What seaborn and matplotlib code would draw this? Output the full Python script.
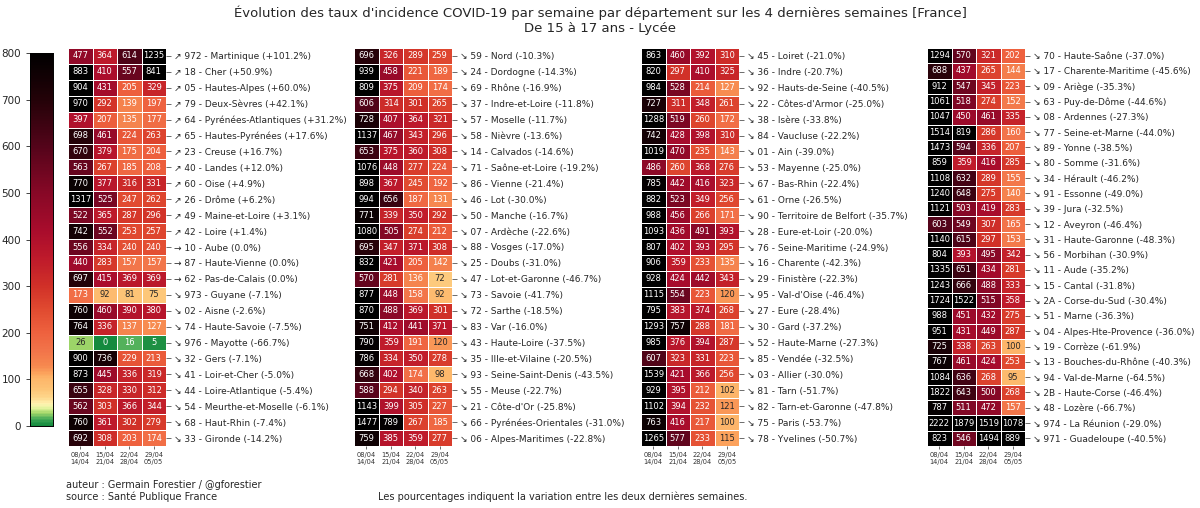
import numpy as np
import pandas as pd
import matplotlib
matplotlib.use("Agg")
import matplotlib.pyplot as plt
import seaborn as sns
from matplotlib.colors import LinearSegmentedColormap

weeks = ["08/04\n14/04", "15/04\n21/04", "22/04\n28/04", "29/04\n05/05"]

codes = [
    "972", "18", "05", "79", "64", "65", "23", "40", "60", "26", "49", "42", "10",
    "87", "62", "973", "02", "74", "976", "32", "41", "44", "54", "68", "33",
    "59", "24", "69", "37", "57", "58", "14", "71", "86", "46", "50", "07", "88",
    "25", "47", "73", "72", "83", "43", "35", "93", "55", "21", "66", "06",
    "45", "36", "92", "22", "38", "84", "01", "53", "67", "61", "90", "28", "76",
    "16", "29", "95", "27", "30", "52", "85", "03", "81", "82", "75", "78",
    "70", "17", "09", "63", "08", "77", "89", "80", "34", "91", "39", "12", "31",
    "56", "11", "15", "2A", "51", "04", "19", "13", "94", "2B", "48", "974", "971",
]
names = [
    "Martinique", "Cher", "Hautes-Alpes", "Deux-Sèvres", "Pyrénées-Atlantiques",
    "Hautes-Pyrénées", "Creuse", "Landes", "Oise", "Drôme", "Maine-et-Loire", "Loire",
    "Aube", "Haute-Vienne", "Pas-de-Calais", "Guyane", "Aisne", "Haute-Savoie",
    "Mayotte", "Gers", "Loir-et-Cher", "Loire-Atlantique", "Meurthe-et-Moselle",
    "Haut-Rhin", "Gironde",
    "Nord", "Dordogne", "Rhône", "Indre-et-Loire", "Moselle", "Nièvre", "Calvados",
    "Saône-et-Loire", "Vienne", "Lot", "Manche", "Ardèche", "Vosges", "Doubs",
    "Lot-et-Garonne", "Savoie", "Sarthe", "Var", "Haute-Loire", "Ille-et-Vilaine",
    "Seine-Saint-Denis", "Meuse", "Côte-d'Or", "Pyrénées-Orientales", "Alpes-Maritimes",
    "Loiret", "Indre", "Hauts-de-Seine", "Côtes-d'Armor", "Isère", "Vaucluse", "Ain",
    "Mayenne", "Bas-Rhin", "Orne", "Territoire de Belfort", "Eure-et-Loir",
    "Seine-Maritime", "Charente", "Finistère", "Val-d'Oise", "Eure", "Gard",
    "Haute-Marne", "Vendée", "Allier", "Tarn", "Tarn-et-Garonne", "Paris", "Yvelines",
    "Haute-Saône", "Charente-Maritime", "Ariège", "Puy-de-Dôme", "Ardennes",
    "Seine-et-Marne", "Yonne", "Somme", "Hérault", "Essonne", "Jura", "Aveyron",
    "Haute-Garonne", "Morbihan", "Aude", "Cantal", "Corse-du-Sud", "Marne",
    "Alpes-Hte-Provence", "Corrèze", "Bouches-du-Rhône", "Val-de-Marne", "Haute-Corse",
    "Lozère", "La Réunion", "Guadeloupe",
]
wk1 = [
    477, 883, 904, 970, 397, 698, 670, 563, 770, 1317, 522, 742, 556,
    440, 697, 173, 760, 764, 26, 900, 873, 655, 562, 760, 692,
    696, 939, 809, 606, 728, 1137, 653, 1076, 898, 994, 771, 1080, 695,
    832, 570, 877, 870, 751, 790, 786, 668, 588, 1143, 1477, 759,
    863, 820, 984, 727, 1288, 742, 1019, 486, 785, 882, 988, 1093, 807,
    906, 928, 1115, 795, 1293, 985, 607, 1539, 929, 1102, 763, 1265,
    1294, 688, 912, 1061, 1047, 1514, 1473, 859, 1108, 1240, 1121, 603, 1140,
    804, 1335, 1243, 1724, 988, 951, 725, 767, 1084, 1822, 787, 2222, 823,
]
wk2 = [
    364, 410, 431, 292, 207, 461, 379, 267, 377, 525, 365, 552, 334,
    283, 415, 92, 460, 336, 0, 736, 445, 328, 303, 361, 308,
    326, 458, 375, 314, 407, 467, 375, 448, 367, 656, 339, 505, 347,
    421, 281, 448, 488, 412, 359, 334, 402, 294, 399, 789, 385,
    460, 297, 528, 311, 519, 428, 470, 260, 442, 523, 456, 436, 402,
    359, 424, 554, 383, 757, 376, 323, 421, 395, 394, 416, 577,
    570, 437, 547, 518, 450, 819, 594, 359, 632, 648, 503, 549, 615,
    393, 651, 666, 1522, 451, 431, 338, 461, 636, 643, 511, 1879, 546,
]
wk3 = [
    614, 557, 205, 139, 135, 224, 175, 185, 316, 247, 287, 253, 240,
    157, 369, 81, 390, 137, 16, 229, 336, 330, 366, 302, 203,
    289, 221, 209, 301, 364, 343, 360, 277, 245, 187, 350, 274, 371,
    205, 136, 158, 369, 441, 191, 350, 174, 340, 305, 267, 359,
    392, 410, 214, 348, 260, 398, 235, 368, 416, 349, 266, 491, 393,
    233, 442, 223, 374, 288, 394, 331, 366, 212, 232, 217, 233,
    321, 265, 345, 274, 461, 286, 336, 416, 289, 275, 419, 307, 297,
    495, 434, 488, 515, 432, 449, 263, 424, 268, 500, 472, 1519, 1494,
]
wk4 = [
    1235, 841, 329, 197, 177, 263, 204, 208, 331, 262, 296, 257, 240,
    157, 369, 75, 380, 127, 5, 213, 319, 312, 344, 279, 174,
    259, 189, 174, 265, 321, 296, 308, 224, 192, 131, 292, 212, 308,
    142, 72, 92, 301, 371, 120, 278, 98, 263, 227, 185, 277,
    310, 325, 127, 261, 172, 310, 143, 276, 323, 256, 171, 393, 295,
    135, 343, 120, 268, 181, 287, 223, 256, 102, 121, 100, 115,
    202, 144, 223, 152, 335, 160, 207, 285, 155, 140, 283, 165, 153,
    342, 281, 333, 358, 275, 287, 100, 253, 95, 268, 157, 1078, 889,
]
pct = [
    101.2, 50.9, 60.0, 42.1, 31.2, 17.6, 16.7, 12.0, 4.9, 6.2, 3.1, 1.4, 0.0,
    0.0, 0.0, -7.1, -2.6, -7.5, -66.7, -7.1, -5.0, -5.4, -6.1, -7.4, -14.2,
    -10.3, -14.3, -16.9, -11.8, -11.7, -13.6, -14.6, -19.2, -21.4, -30.0, -16.7, -22.6, -17.0,
    -31.0, -46.7, -41.7, -18.5, -16.0, -37.5, -20.5, -43.5, -22.7, -25.8, -31.0, -22.8,
    -21.0, -20.7, -40.5, -25.0, -33.8, -22.2, -39.0, -25.0, -22.4, -26.5, -35.7, -20.0, -24.9,
    -42.3, -22.3, -46.4, -28.4, -37.2, -27.3, -32.5, -30.0, -51.7, -47.8, -53.7, -50.7,
    -37.0, -45.6, -35.3, -44.6, -27.3, -44.0, -38.5, -31.6, -46.2, -49.0, -32.5, -46.4, -48.3,
    -30.9, -35.2, -31.8, -30.4, -36.3, -36.0, -61.9, -40.3, -64.5, -46.4, -66.7, -29.0, -40.5,
]
panel_sizes = [25, 25, 25, 26]

title = ("Évolution des taux d'incidence COVID-19 par semaine par département sur les 4 "
         "dernières semaines [France]\nDe 15 à 17 ans - Lycée")

cmap = LinearSegmentedColormap.from_list("incid", [
    (0.000, "#148a3e"), (0.010, "#2a9a4c"), (0.020, "#55b25c"), (0.033, "#a6d96a"),
    (0.048, "#e8f5a2"), (0.058, "#fff2b0"), (0.075, "#fed68a"), (0.100, "#fdc274"),
    (0.125, "#fdb66a"), (0.140, "#fca45d"), (0.160, "#f6884f"), (0.200, "#f2744a"),
    (0.250, "#ee613e"), (0.3125, "#e04a30"), (0.375, "#d03028"), (0.450, "#be1a2b"),
    (0.525, "#a80c2c"), (0.625, "#870826"), (0.750, "#54041a"), (0.875, "#240208"),
    (1.000, "#000000"),
])

def fmt_label(code, name, p):
    arrow = "↗" if p > 0 else ("→" if p == 0 else "↘")
    ptxt = f"+{p:.1f}%" if p > 0 else f"{p:.1f}%"
    return f"{arrow} {code} - {name} ({ptxt})"

labels = [fmt_label(c, n, p) for c, n, p in zip(codes, names, pct)]
df_all = pd.DataFrame({weeks[0]: wk1, weeks[1]: wk2, weeks[2]: wk3, weeks[3]: wk4},
                      index=labels)

sns.set_style("white")
plt.rcParams["font.family"] = ["DejaVu Sans"]

W, H = 1200, 508
fig = plt.figure(figsize=(12, 5.08), dpi=100)

lefts = [68, 354, 641, 927]
top, bottom = 48, 446
width = 98
cax = fig.add_axes([30 / W, 1 - 426 / H, 23 / W, 373 / H])

start = 0
for i, n in enumerate(panel_sizes):
    ax = fig.add_axes([lefts[i] / W, 1 - bottom / H, width / W, (bottom - top) / H])
    sub = df_all.iloc[start:start + n]
    start += n
    sns.heatmap(sub, ax=ax, cmap=cmap, vmin=0, vmax=800, annot=True, fmt="d",
                annot_kws={"size": 6}, linewidths=0.7, linecolor="white",
                cbar=(i == 0), cbar_ax=cax if i == 0 else None)
    ax.yaxis.tick_right()
    ax.set_yticklabels(sub.index, rotation=0, fontsize=6.5)
    ax.set_xticklabels(weeks, rotation=0, fontsize=4.8, color="#333333")
    ax.tick_params(axis="y", length=3.5, width=0.6, pad=2, color="#555555", right=True, left=False)
    ax.tick_params(axis="x", length=2, width=0.6, pad=2, color="#555555", bottom=True)
    ax.set_xlabel("")
    ax.set_ylabel("")

cax.yaxis.set_ticks_position("left")
cax.set_yticks([0, 100, 200, 300, 400, 500, 600, 700, 800])
cax.tick_params(labelsize=7.5, length=3, width=0.6)
for s in cax.spines.values():
    s.set_visible(True)
    s.set_linewidth(0.6)
    s.set_color("black")

fig.text(0.5, 1 - 20 / H, title, ha="center", va="center", fontsize=9.5, linespacing=1.25)
fig.text(66 / W, 1 - 485 / H, "auteur : Germain Forestier / @gforestier",
         ha="left", va="center", fontsize=7)
fig.text(66 / W, 1 - 497 / H, "source : Santé Publique France",
         ha="left", va="center", fontsize=7)
fig.text(378 / W, 1 - 497 / H,
         "Les pourcentages indiquent la variation entre les deux dernières semaines.",
         ha="left", va="center", fontsize=7)

fig.savefig("out.png", dpi=100)
